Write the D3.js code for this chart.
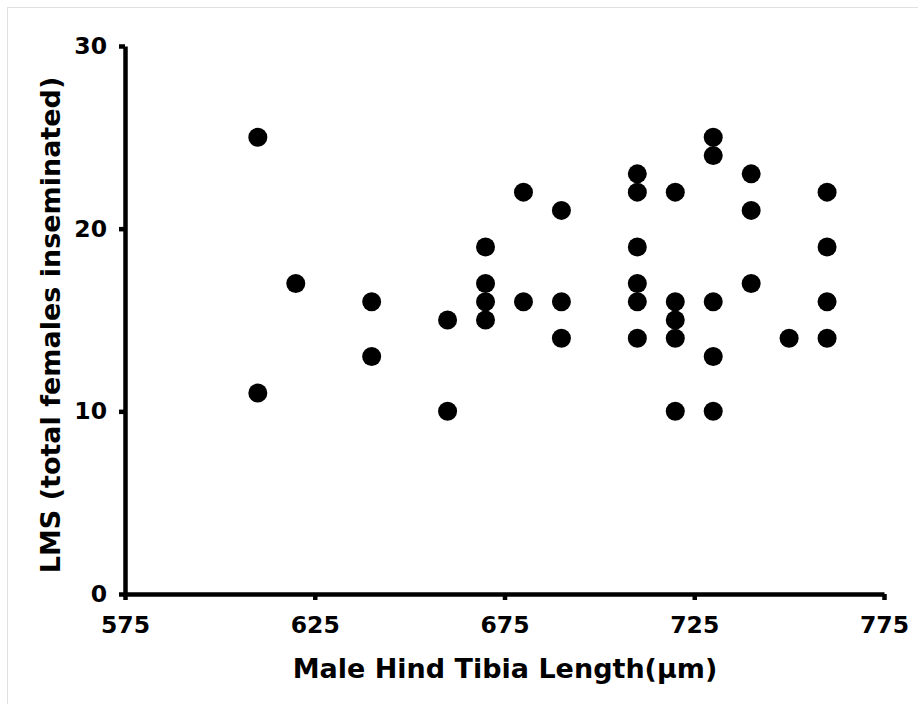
<!DOCTYPE html>
<html><head><meta charset="utf-8">
<script src="https://cdn.jsdelivr.net/npm/d3@7"></script>
<style>body{margin:0;background:#fff}svg{display:block}</style>
</head><body>
<svg id="c" width="918" height="704"></svg>
<script>
const tibia = [610,610,620,640,640,660,660,670,670,670,670,680,680,690,690,690,710,710,710,710,710,710,720,720,720,720,720,730,730,730,730,730,740,740,740,750,760,760,760,760];
const lms   = [25,11,17,16,13,15,10,19,17,16,15,22,16,21,16,14,23,22,19,17,16,14,22,16,15,14,10,25,24,16,13,10,23,21,17,14,22,19,16,14];
const xTicks = [575,625,675,725,775];
const yTicks = [0,10,20,30];

const svg = d3.select("#c");
svg.append("rect").attr("x",7.5).attr("y",7.5).attr("width",930).attr("height",720)
  .attr("fill","none").attr("stroke","#e0e0e0").attr("stroke-width",1);

const x = d3.scaleLinear().domain([575,775]).range([125,884]);
const y = d3.scaleLinear().domain([0,30]).range([594,46]);
const font = "'DejaVu Sans', Verdana, sans-serif";

const xa = svg.append("g").attr("transform","translate(0,594)")
  .call(d3.axisBottom(x).tickValues(xTicks).tickSize(6).tickPadding(16).tickSizeOuter(0));
const ya = svg.append("g").attr("transform","translate(125,0)")
  .call(d3.axisLeft(y).tickValues(yTicks).tickSize(6).tickPadding(12).tickSizeOuter(0));
[xa,ya].forEach(a=>{
  a.select(".domain").attr("stroke","#000").attr("stroke-width",4.5);
  a.selectAll(".tick line").attr("stroke","#000").attr("stroke-width",4.5);
  a.selectAll(".tick text").attr("fill","#000").style("font-family",font)
   .style("font-weight","bold").style("font-size","23.5px");
});

svg.append("g").selectAll("circle").data(tibia).join("circle")
  .attr("cx",(d)=>x(d)).attr("cy",(d,i)=>y(lms[i])).attr("r",9.5).attr("fill","#000");

svg.append("text").attr("x",505).attr("y",678).attr("text-anchor","middle")
  .style("font-family",font).style("font-weight","bold").style("font-size","27px")
  .text("Male Hind Tibia Length(µm)");
svg.append("text").attr("transform","translate(60,325) rotate(-90)").attr("text-anchor","middle")
  .style("font-family",font).style("font-weight","bold").style("font-size","27px")
  .text("LMS (total females inseminated)");
</script>
</body></html>
